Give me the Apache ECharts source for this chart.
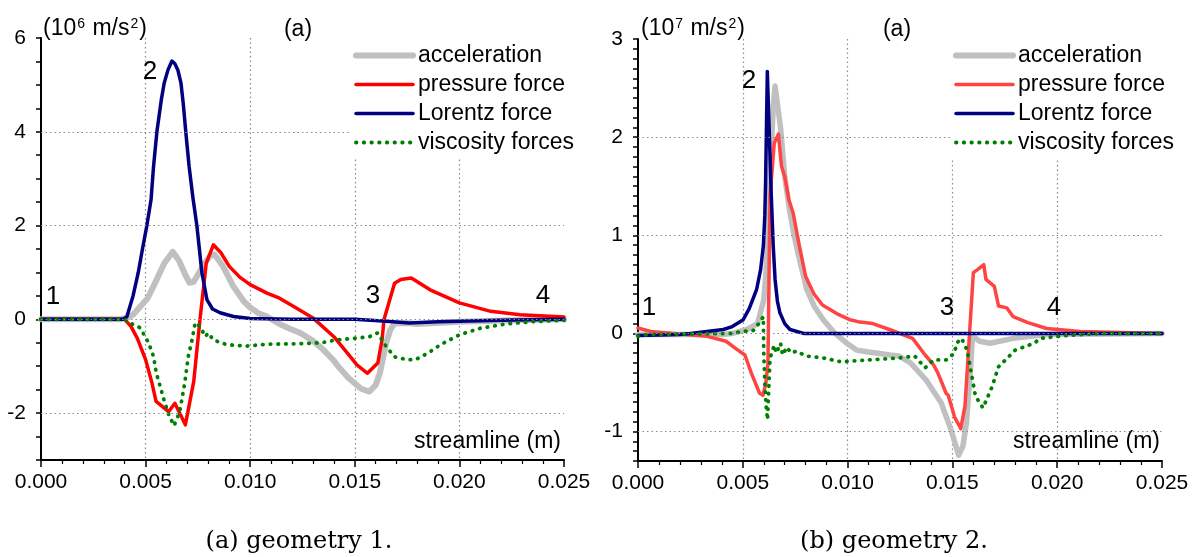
<!DOCTYPE html>
<html>
<head>
<meta charset="utf-8">
<script src="https://cdn.jsdelivr.net/npm/echarts@6.0.0/dist/echarts.min.js"></script>
<style>
  html, body { margin: 0; padding: 0; background: #fff; }
  #chart { width: 1195px; height: 557px; }
</style>
</head>
<body>
<div id="chart"></div>
<script>
// Force balance along the streamline. x = streamline position (m).
// Geometry 1, values in 1e6 m/s^2
const accel1 = [[0,0],[0.0038,0],[0.0042,0.05],[0.0044,0.1],[0.0048,0.3],[0.0051,0.45],[0.0055,0.82],[0.0059,1.2],[0.0063,1.44],[0.0066,1.25],[0.0069,0.95],[0.0071,0.78],[0.0073,0.8],[0.0075,0.95],[0.0078,1.18],[0.0081,1.36],[0.0083,1.38],[0.0087,1.13],[0.0092,0.7],[0.0097,0.38],[0.0100,0.25],[0.0104,0.13],[0.0108,0.06],[0.0114,-0.1],[0.0119,-0.2],[0.0124,-0.29],[0.0130,-0.46],[0.0135,-0.65],[0.0140,-0.88],[0.0142,-1.0],[0.0147,-1.25],[0.0153,-1.48],[0.0157,-1.54],[0.0160,-1.4],[0.0162,-1.14],[0.0165,-0.5],[0.0167,-0.22],[0.0169,-0.09],[0.0175,-0.08],[0.0180,-0.1],[0.0200,-0.05],[0.0225,-0.02],[0.025,0]];
const pressure1 = [[0,0],[0.0040,0],[0.0043,-0.15],[0.0046,-0.4],[0.0050,-0.86],[0.0053,-1.35],[0.0055,-1.75],[0.0061,-1.97],[0.0064,-1.79],[0.0069,-2.25],[0.0073,-1.33],[0.0075,-0.44],[0.0076,0],[0.0079,1.2],[0.00824,1.59],[0.0086,1.42],[0.0090,1.13],[0.0095,0.9],[0.0100,0.74],[0.0108,0.56],[0.0114,0.45],[0.0121,0.27],[0.0130,0.03],[0.0140,-0.37],[0.0149,-0.86],[0.0151,-0.97],[0.0156,-1.15],[0.0161,-0.93],[0.0163,-0.44],[0.0164,0],[0.0169,0.77],[0.0172,0.85],[0.0177,0.88],[0.0186,0.63],[0.0200,0.35],[0.0215,0.17],[0.0229,0.1],[0.0250,0.05]];
const lorentz1 = [[0,0],[0.0039,0],[0.0041,0.05],[0.0042,0.2],[0.0044,0.5],[0.00465,1.0],[0.00485,1.5],[0.00506,2.0],[0.00526,2.55],[0.00538,3.26],[0.00554,4.0],[0.00575,4.68],[0.00589,5.04],[0.00607,5.32],[0.00626,5.51],[0.0064,5.45],[0.00654,5.32],[0.00669,5.04],[0.0068,4.6],[0.00692,4.0],[0.00708,3.26],[0.00726,2.6],[0.00745,2.0],[0.00769,1.0],[0.00793,0.42],[0.0082,0.22],[0.00856,0.14],[0.0092,0.06],[0.0100,0.02],[0.0120,0],[0.0150,0],[0.0165,-0.04],[0.0176,-0.08],[0.0190,-0.05],[0.0220,-0.02],[0.025,0]];
const viscous1 = [[0,0],[0.0040,0],[0.00443,-0.12],[0.00474,-0.18],[0.00514,-0.5],[0.00538,-0.79],[0.00551,-1.14],[0.00588,-1.72],[0.00611,-2.04],[0.00636,-2.27],[0.00663,-1.97],[0.00687,-1.36],[0.00704,-0.79],[0.00722,-0.44],[0.00737,-0.07],[0.00761,-0.15],[0.00785,-0.37],[0.0080,-0.29],[0.00824,-0.44],[0.00888,-0.54],[0.00984,-0.57],[0.0108,-0.53],[0.0124,-0.52],[0.0134,-0.5],[0.0141,-0.44],[0.0151,-0.4],[0.0157,-0.37],[0.0161,-0.29],[0.0163,-0.44],[0.0165,-0.58],[0.0169,-0.8],[0.0175,-0.86],[0.0179,-0.86],[0.0185,-0.72],[0.0191,-0.54],[0.0200,-0.33],[0.0210,-0.19],[0.0222,-0.1],[0.0235,-0.05],[0.025,-0.02]];

// Geometry 2, values in 1e7 m/s^2
const accel2 = [[0,-0.01],[0.0040,-0.01],[0.0045,0],[0.0052,0.04],[0.0057,0.1],[0.0060,0.34],[0.0061,0.6],[0.0062,1.0],[0.0063,1.6],[0.00645,2.3],[0.00654,2.52],[0.0068,2.1],[0.0070,1.6],[0.0072,1.3],[0.0074,1.05],[0.0076,0.85],[0.00805,0.45],[0.0084,0.28],[0.00884,0.14],[0.0094,0],[0.00996,-0.1],[0.01043,-0.17],[0.0110,-0.19],[0.01202,-0.22],[0.01245,-0.23],[0.0130,-0.3],[0.01373,-0.47],[0.01447,-0.71],[0.01493,-0.98],[0.0153,-1.24],[0.0155,-1.15],[0.01567,-0.91],[0.01585,-0.4],[0.01595,-0.06],[0.0160,-0.03],[0.0163,-0.08],[0.0168,-0.1],[0.0179,-0.05],[0.0195,-0.01],[0.025,0]];
const pressure2 = [[0,0.055],[0.0006,0.02],[0.0017,0],[0.0033,-0.03],[0.0042,-0.08],[0.0047,-0.16],[0.0051,-0.22],[0.0054,-0.4],[0.0058,-0.61],[0.00596,-0.63],[0.0061,-0.51],[0.0062,-0.3],[0.0063,1.4],[0.0065,1.94],[0.0067,2.03],[0.0068,1.8],[0.00685,1.7],[0.0070,1.6],[0.0072,1.36],[0.0074,1.23],[0.0077,0.89],[0.0080,0.58],[0.0084,0.4],[0.0088,0.29],[0.0095,0.2],[0.0101,0.14],[0.0105,0.12],[0.0112,0.1],[0.0120,0.04],[0.0131,-0.05],[0.0137,-0.22],[0.0141,-0.32],[0.0143,-0.4],[0.0147,-0.61],[0.0148,-0.63],[0.0151,-0.85],[0.0154,-0.97],[0.0156,-0.74],[0.0158,-0.06],[0.0160,0.62],[0.0162,0.65],[0.0165,0.7],[0.0166,0.55],[0.0170,0.48],[0.0172,0.28],[0.0176,0.26],[0.0179,0.17],[0.0186,0.11],[0.0195,0.05],[0.0211,0.02],[0.0250,0]];
const lorentz2 = [[0,-0.02],[0.0020,-0.01],[0.0025,0],[0.00407,0.04],[0.0045,0.07],[0.00502,0.14],[0.0053,0.25],[0.0055,0.36],[0.00566,0.45],[0.00585,0.65],[0.00598,0.89],[0.00605,1.2],[0.00609,1.57],[0.00617,2.67],[0.00627,2.0],[0.00636,1.4],[0.00645,0.9],[0.00654,0.55],[0.00665,0.33],[0.00677,0.21],[0.0070,0.1],[0.00725,0.04],[0.0079,0],[0.025,0]];
const viscous2 = [[0,-0.03],[0.0005,-0.01],[0.0045,0],[0.0050,0.02],[0.0055,0.03],[0.0058,0.11],[0.00598,0.17],[0.0060,-0.2],[0.00605,-0.5],[0.00612,-0.75],[0.00618,-0.88],[0.00625,-0.5],[0.0063,-0.25],[0.0065,-0.12],[0.0066,-0.2],[0.0068,-0.1],[0.0069,-0.22],[0.0071,-0.14],[0.0073,-0.2],[0.00757,-0.18],[0.0080,-0.23],[0.00884,-0.25],[0.0097,-0.29],[0.0110,-0.27],[0.01245,-0.25],[0.0132,-0.23],[0.0137,-0.35],[0.0141,-0.27],[0.0147,-0.27],[0.0151,-0.2],[0.0152,-0.1],[0.01544,-0.05],[0.0157,-0.17],[0.0159,-0.4],[0.0161,-0.64],[0.01646,-0.76],[0.0169,-0.54],[0.0172,-0.34],[0.0180,-0.17],[0.0189,-0.1],[0.0192,-0.05],[0.0205,-0.02],[0.0220,0],[0.025,0]];

const seriesNames = ['acceleration', 'pressure force', 'Lorentz force', 'viscosity forces'];
const yLabels1 = [6, 4, 2, 0, -2];
const yLabels2 = [3, 2, 1, 0, -1];
const yGrid1 = [4, 2, 0, -2];
const yGrid2 = [2, 1, 0, -1];

const SANS = "'Liberation Sans', Arial, sans-serif";
const SERIF = "'DejaVu Serif', 'Liberation Serif', serif";
const GRID_LINE = { color: '#8a8a8a', type: [1.5, 3], width: 1.2 };
const DOTS = [0.5, 7.2];

function xAxisFor(gi) {
  return {
    type: 'value', gridIndex: gi, min: 0, max: 0.025, interval: 0.005,
    axisLine: { show: true, onZero: false, lineStyle: { color: '#000', width: 2 } },
    axisTick: { show: true, length: 7, lineStyle: { color: '#000', width: 1.5 } },
    minorTick: { show: true, splitNumber: 5, length: 4, lineStyle: { color: '#000', width: 1.2 } },
    axisLabel: { fontSize: 21, color: '#000', fontFamily: SANS, margin: 12,
                 formatter: v => v.toFixed(3) },
    splitLine: { show: true, showMinLine: false, showMaxLine: false, lineStyle: GRID_LINE }
  };
}
function yAxisFor(gi, min, max, step, labels) {
  return {
    type: 'value', gridIndex: gi, min: min, max: max, interval: step,
    axisLine: { show: true, onZero: false, lineStyle: { color: '#000', width: 2 } },
    axisTick: { show: true, length: 5, lineStyle: { color: '#000', width: 1.5 } },
    axisLabel: { fontSize: 21, color: '#000', fontFamily: SANS, margin: 15,
                 formatter: v => { const l = labels.find(t => Math.abs(t - v) < 1e-6); return l === undefined ? '' : String(l); } },
    splitLine: { show: false }
  };
}
function gridLines(gi, values) {
  return {
    type: 'line', xAxisIndex: gi, yAxisIndex: gi, data: [], z: 1, silent: true,
    markLine: { symbol: 'none', silent: true, animation: false, label: { show: false },
                lineStyle: GRID_LINE, emphasis: { disabled: true },
                data: values.map(v => ({ yAxis: v })) }
  };
}
function curve(gi, name, data, color, width, dotted) {
  return {
    type: 'line', name: name, xAxisIndex: gi, yAxisIndex: gi, data: data,
    symbol: 'none', smooth: false, z: 3,
    lineStyle: dotted
      ? { color: color, width: width, type: DOTS, cap: 'round' }
      : { color: color, width: width, join: 'round', cap: 'round' },
    itemStyle: { color: color },
    emphasis: { disabled: true }
  };
}
function legendFor(left, redColor) {
  return {
    orient: 'vertical', left: left, top: 38, itemWidth: 57, itemHeight: 14, itemGap: 6,
    padding: [6, 4, 5, 3], backgroundColor: '#fff', selectedMode: false, z: 10,
    itemStyle: { opacity: 0 },
    textStyle: { fontSize: 23, color: '#000', fontFamily: SANS },
    data: [
      { name: seriesNames[0], lineStyle: { color: '#c0c0c0', width: 6, cap: 'round' } },
      { name: seriesNames[1], lineStyle: { color: redColor, width: 3.5, cap: 'round' } },
      { name: seriesNames[2], lineStyle: { color: '#000080', width: 3.5, cap: 'round' } },
      { name: seriesNames[3], lineStyle: { color: '#008000', width: 3.8, type: DOTS, cap: 'round' } }
    ]
  };
}
function label(text, x, y, size, align, family) {
  return { type: 'text', x: x, y: y, z: 20, silent: true,
           style: { text: text, fontSize: size, fontFamily: family || SANS, fill: '#000',
                    align: align || 'center', verticalAlign: 'middle' } };
}
function unitLabel(exp, x, y) {
  return { type: 'text', x: x, y: y, z: 20, silent: true,
           style: { text: '(10{sup|' + exp + '} m/s{sup|2})', fontSize: 23, fontFamily: SANS, fill: '#000',
                    align: 'left', verticalAlign: 'middle',
                    rich: { sup: { fontSize: 14, fontFamily: SANS, fill: '#000', verticalAlign: 'top', padding: [0, 1, 0, 1] } } } };
}

const chart = echarts.init(document.getElementById('chart'), null, { renderer: 'canvas' });
chart.setOption({
  animation: false,
  backgroundColor: '#fff',
  grid: [
    { left: 41, top: 38, width: 523, height: 422 },
    { left: 638, top: 39, width: 524, height: 422 }
  ],
  xAxis: [xAxisFor(0), xAxisFor(1)],
  yAxis: [yAxisFor(0, -3, 6, 0.5, yLabels1), yAxisFor(1, -1.3, 3, 0.1, yLabels2)],
  legend: [legendFor(350, '#ff0000'), legendFor(950, '#ff4444')],
  series: [
    gridLines(0, yGrid1),
    curve(0, seriesNames[0], accel1, '#c0c0c0', 6, false),
    curve(0, seriesNames[1], pressure1, '#ff0000', 3.5, false),
    curve(0, seriesNames[2], lorentz1, '#000080', 3.5, false),
    curve(0, seriesNames[3], viscous1, '#008000', 3.8, true),
    gridLines(1, yGrid2),
    curve(1, seriesNames[0], accel2, '#c0c0c0', 5.5, false),
    curve(1, seriesNames[1], pressure2, '#ff4444', 3.5, false),
    curve(1, seriesNames[2], lorentz2, '#000080', 3.5, false),
    curve(1, seriesNames[3], viscous2, '#008000', 3.8, true)
  ],
  graphic: [
    unitLabel('6', 43, 29),
    unitLabel('7', 641, 29),
    label('(a)', 298, 30, 23),
    label('(a)', 897, 30, 23),
    label('1', 53, 297, 26),
    label('2', 150, 72, 26),
    label('3', 373, 296, 26),
    label('4', 543, 296, 26),
    label('1', 649, 308, 26),
    label('2', 749, 81, 26),
    label('3', 947, 308, 26),
    label('4', 1054, 308, 26),
    label('streamline (m)', 561, 442, 23, 'right'),
    label('streamline (m)', 1160, 442, 23, 'right'),
    label('(a) geometry 1.', 299, 542, 24, 'center', SERIF),
    label('(b) geometry 2.', 894, 542, 24, 'center', SERIF)
  ]
});
</script>
</body>
</html>
